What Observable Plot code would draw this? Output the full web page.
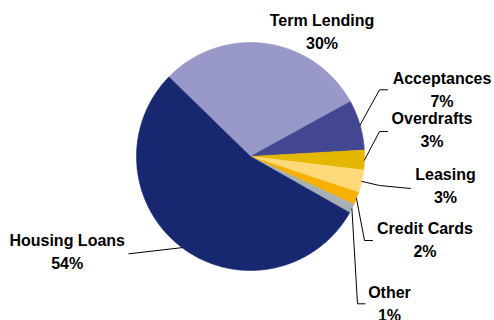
<!DOCTYPE html>
<html>
<head>
<meta charset="utf-8">
<script src="https://cdn.jsdelivr.net/npm/d3@7"></script>
<script src="https://cdn.jsdelivr.net/npm/@observablehq/plot@0.6"></script>
<style>
  html, body { margin: 0; padding: 0; background: #fff; }
  #chart svg { display: block; }
</style>
</head>
<body>
<div id="chart"></div>
<script>
// ---- data ----
const categories = ["Term Lending", "Acceptances", "Overdrafts", "Leasing", "Credit Cards", "Other", "Housing Loans"];
const shares = [29.7, 7.1, 2.8, 3.2, 1.8, 1.3, 54.1];
const colors = ["#9999C9", "#434691", "#E5B800", "#FFD97A", "#F5B000", "#A8B0B5", "#172870"];

// ---- layout (chart units, origin at pie centre, y up) ----
const R = 114;
const startDeg = -45.7;
// label centre x and baseline y of the last (percent) line
const labelPos = [[71.5, 107.5], [191.5, 50], [181.5, 9.5], [195, -46.5], [174.5, -100.5], [139, -164], [-183.3, -112.5]];
const elbows = [
  null,
  [[129, 66.7], [137, 66.7]],
  [[129, 25], [137, 25]],
  [[129, -29], [160, -32]],
  [[114, -84], [122, -84]],
  [[107, -147.3], [114.5, -147.3]],
  [[-121.7, -97.3]]
];

const pie = d3.pie().sort(null).value(d => d)
  .startAngle(startDeg * Math.PI / 180)
  .endAngle(startDeg * Math.PI / 180 + 2 * Math.PI)(shares);

const polys = [];
pie.forEach((p, i) => {
  polys.push({x: 0, y: 0, k: categories[i]});
  const n = Math.max(2, Math.ceil((p.endAngle - p.startAngle) / (Math.PI / 360)));
  for (let j = 0; j <= n; j++) {
    const a = p.startAngle + (p.endAngle - p.startAngle) * j / n;
    polys.push({x: R * Math.sin(a), y: R * Math.cos(a), k: categories[i]});
  }
  polys.push({x: 0, y: 0, k: categories[i]});
});

const leaders = [];
const labels = [];
pie.forEach((p, i) => {
  const a = (p.startAngle + p.endAngle) / 2;
  if (elbows[i]) {
    leaders.push({x: R * Math.sin(a), y: R * Math.cos(a), k: categories[i]});
    elbows[i].forEach(([x, y]) => leaders.push({x, y, k: categories[i]}));
  }
  labels.push({x: labelPos[i][0], y: labelPos[i][1], t: categories[i] + "\n" + Math.round(shares[i]) + "%"});
});

const chart = Plot.plot({
  width: 494,
  height: 320,
  margin: 0,
  x: {domain: [-250, 244], axis: null},
  y: {domain: [-164, 156], axis: null},
  color: {domain: categories, range: colors},
  style: {background: "#fff"},
  marks: [
    Plot.line(polys, {x: "x", y: "y", z: "k", fill: "k", stroke: "k", strokeWidth: 0.6, curve: "linear"}),
    Plot.line(leaders, {x: "x", y: "y", z: "k", stroke: "#000", strokeWidth: 1}),
    Plot.text(labels, {
      x: "x", y: "y", text: "t", lineHeight: 1.41, lineAnchor: "bottom",
      fontSize: 16, fontWeight: "bold", fill: "#000",
      fontFamily: "Liberation Sans, Arial, Helvetica, sans-serif", textAnchor: "middle"
    })
  ]
});
document.getElementById("chart").appendChild(chart);
</script>
</body>
</html>
